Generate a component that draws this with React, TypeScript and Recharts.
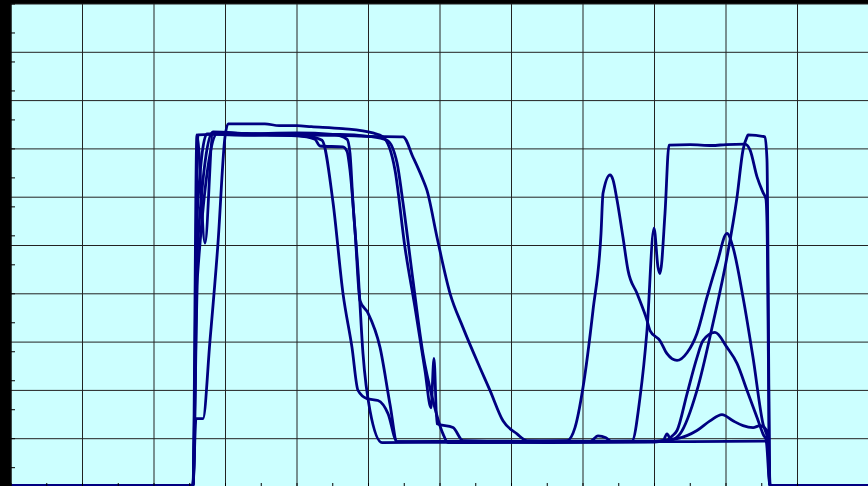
import { LineChart, Line, XAxis, YAxis, CartesianGrid } from "recharts";

type Pt = [number, number];

// Each run: [position, value] pairs
const run1: Pt[] = [
  [0, 0.3], [25.45, 0.3], [26.15, 72.9], [28, 73.0], [33, 72.8], [38, 72.9], [42, 72.5], [43.5, 71.8],
  [45.03, 59.0], [46.43, 40.1], [47.69, 28.9], [48.53, 20.0], [49.79, 18.3], [51.33, 17.9],
  [52.73, 15.2], [53.99, 9.4], [60, 9.3], [70, 9.4], [80.98, 9.4], [82.1, 10.6], [83.2, 10.2],
  [84, 9.4], [95, 9.4], [105.6, 9.5], [106.15, 0.3], [120, 0.3],
];

const run2: Pt[] = [
  [0, 0.3], [25.45, 0.3], [26.0, 72.9], [27.13, 50.5], [28.25, 73.3], [32, 73.0], [40, 72.7], [42.5, 72.0],
  [43.22, 70.6], [46.43, 70.4], [47.0, 69.5], [47.41, 65.6], [48.11, 53.2], [48.81, 38.6],
  [49.93, 36.0], [51.61, 28.9], [53.01, 17.1], [53.99, 9.4], [65, 9.5], [80, 9.4], [86.85, 9.5],
  [87.97, 18.5], [88.95, 32.4], [89.93, 53.6], [90.49, 45.5], [90.77, 44.2], [91.47, 56.7],
  [92.03, 70.8], [95, 70.9], [98, 70.7], [100, 70.9], [102.66, 71.0], [103.36, 69.8],
  [104.34, 64.2], [105.17, 61.0], [105.59, 59.6], [105.73, 55], [106.15, 0.3], [120, 0.3],
];

const run3: Pt[] = [
  [0, 0.3], [25.45, 0.3], [25.87, 14.15], [26.85, 14.15], [27.83, 30.3], [28.95, 50.5], [29.93, 72.5],
  [30.35, 75.2], [35.5, 75.2], [37.5, 74.8], [40, 74.8], [42, 74.6], [46.4, 74.2], [50.6, 73.3],
  [52.03, 72.5], [53.71, 65.6], [55.1, 49.6], [56.5, 37.2], [57.9, 24.1], [58.74, 16.4],
  [59.16, 26.6], [59.58, 13.1], [61.82, 12.3], [63.22, 9.6], [70, 9.4], [77.76, 9.6],
  [78.88, 12.3], [80, 20.6], [81.4, 36.6], [82.52, 52.5], [82.8, 60.8], [83.78, 64.6],
  [84.2, 63.6], [84.76, 59.4], [85.59, 51.7], [86.29, 44.9], [87.55, 40.1], [88.95, 34.5],
  [89.37, 32.4], [90.77, 30.3], [91.75, 27.6], [93.15, 26.2], [94.55, 27.8], [95.94, 31.8],
  [97.34, 39.3], [98.74, 46.3], [100.14, 52.5], [100.98, 49.6], [102.38, 39.3], [103.78, 26.8],
  [105.17, 13.1], [105.87, 9.6], [106.15, 0.3], [120, 0.3],
];

const run4: Pt[] = [
  [0, 0.3], [25.45, 0.3], [26.1, 58], [27.41, 73.1], [32, 73.1], [40, 73.3], [45, 73.0], [47.0, 72.0],
  [47.41, 69.1], [47.83, 58.8], [48.53, 44.9], [49.23, 27.6], [50.21, 15.8], [51.89, 9.2],
  [60, 9.3], [75, 9.2], [90, 9.3], [91.2, 9.6], [91.75, 11.0], [92.3, 9.8], [93.57, 11.0],
  [95.94, 20.0], [98.18, 33.9], [100.14, 47.6], [101.54, 60.0], [102.38, 69.8], [102.94, 72.5],
  [103.08, 72.9], [105.45, 72.5], [105.73, 67.8], [106.15, 0.3], [120, 0.3],
];

const run5: Pt[] = [
  [0, 0.3], [25.45, 0.3], [26.1, 50], [28.25, 73.5], [33, 73.2], [40, 73.0], [46, 73.0], [50, 72.6],
  [52.59, 71.8], [53.99, 67.1], [54.83, 58.8], [56.22, 42.8], [57.62, 27.6], [59.02, 17.9],
  [60.42, 11.0], [61.12, 9.2], [75, 9.3], [90, 9.4], [91.5, 9.5], [92.5, 10.6], [93.15, 11.7],
  [94.55, 19.3], [95.94, 26.8], [96.78, 30.3], [98.46, 32.0], [100.14, 28.9], [101.54, 25.6],
  [102.94, 20.0], [104.34, 14.4], [105.17, 11.0], [105.87, 8.9], [106.15, 0.3], [120, 0.3],
];

const run6: Pt[] = [
  [0, 0.3], [25.45, 0.3], [26.1, 44], [28.95, 73.4], [34, 73.0], [40, 72.9], [46, 72.8], [50, 72.6],
  [54.83, 72.5], [56.22, 68.3], [57.62, 63.6], [58.18, 61.4], [59.58, 51.7], [61.4, 40.1],
  [63.22, 33.0], [65.59, 24.7], [66.99, 20.0], [68.81, 13.7], [70.77, 11.0], [72.17, 9.6],
  [80, 9.5], [90, 9.5], [93.15, 10.0], [95.94, 11.7], [97.76, 13.7], [99.44, 15.0],
  [100.98, 13.7], [102.38, 12.7], [103.78, 12.3], [104.76, 12.7], [105.73, 11.7], [106.15, 0.3],
  [120, 0.3],
];

const runs = [run1, run2, run3, run4, run5, run6];
const keys = runs.map((_, i) => `r${i + 1}`);

const majorX = [0, 10, 20, 30, 40, 50, 60, 70, 80, 90, 100, 110, 120];
const minorX = Array.from({ length: 25 }, (_, i) => i * 5);
const majorYCount = 10;
const minorY = Array.from({ length: 51 }, (_, i) => i * 2);

const rows = (() => {
  const m = new Map<number, Record<string, number>>();
  runs.forEach((pts, i) =>
    pts.forEach(([x, y]) => {
      const row = m.get(x) ?? { x };
      row[keys[i]] = y;
      m.set(x, row);
    })
  );
  return [...m.values()].sort((a, b) => a.x - b.x);
})();

const NoLabel = () => null;

export default function App() {
  return (
    <div style={{ position: "fixed", left: 0, top: 0, width: 868, height: 486, overflow: "hidden", background: "#000" }}>
      <LineChart width={870} height={487} data={rows} margin={{ top: 4, right: 1, left: 11, bottom: 0 }}>
        <XAxis xAxisId="grid" dataKey="x" type="number" domain={[0, 120]} ticks={majorX} hide />
        <CartesianGrid
          xAxisId="grid"
          fill="#CCFFFF"
          fillOpacity={1}
          stroke="#222"
          strokeWidth={1}
          horizontalCoordinatesGenerator={({ offset }: any) =>
            Array.from({ length: majorYCount + 1 }, (_, i) => offset.top + (offset.height * i) / majorYCount)
          }
        />
        <XAxis
          dataKey="x"
          type="number"
          domain={[0, 120]}
          ticks={minorX}
          height={1}
          mirror
          tick={NoLabel}
          tickSize={4}
          axisLine={false}
          tickLine={{ stroke: "#000" }}
        />
        <YAxis
          type="number"
          domain={[0, 100]}
          ticks={minorY}
          width={1}
          mirror
          tick={NoLabel}
          tickSize={4}
          axisLine={{ stroke: "#000" }}
          tickLine={{ stroke: "#000" }}
        />
        {keys.map((k) => (
          <Line
            key={k}
            dataKey={k}
            type="monotone"
            stroke="#000080"
            strokeWidth={2.8}
            dot={false}
            connectNulls
            isAnimationActive={false}
          />
        ))}
      </LineChart>
    </div>
  );
}
